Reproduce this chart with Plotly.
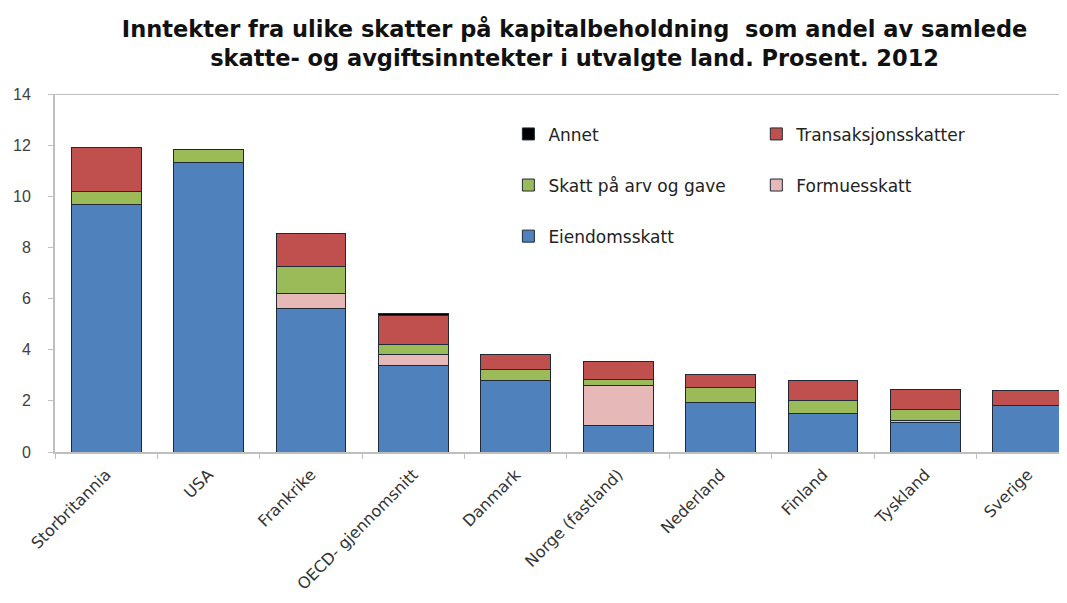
import plotly.graph_objects as go

categories = ["Storbritannia", "USA", "Frankrike", "OECD- gjennomsnitt", "Danmark",
              "Norge (fastland)", "Nederland", "Finland", "Tyskland", "Sverige"]
eiendomsskatt = [9.67, 11.34, 5.62, 3.37, 2.79, 1.02, 1.93, 1.51, 1.17, 1.83]
formuesskatt = [0.0, 0.0, 0.58, 0.45, 0.0, 1.60, 0.0, 0.0, 0.05, 0.0]
arv_og_gave = [0.53, 0.48, 1.05, 0.38, 0.44, 0.20, 0.60, 0.52, 0.44, 0.0]
transaksjon = [1.69, 0.0, 1.28, 1.15, 0.60, 0.73, 0.51, 0.76, 0.80, 0.56]
annet = [0.0, 0.0, 0.0, 0.07, 0.0, 0.0, 0.0, 0.0, 0.0, 0.0]
y_ticks = [0, 2, 4, 6, 8, 10, 12, 14]

title_text = ("Inntekter fra ulike skatter på kapitalbeholdning  som andel av samlede<br>"
              "skatte- og avgiftsinntekter i utvalgte land. Prosent. 2012")

# (name, values, colour, legend, rank within legend)
series = [
    ("Eiendomsskatt", eiendomsskatt, "#4F81BD", "legend", 3),
    ("Formuesskatt", formuesskatt, "#E6B9B8", "legend2", 2),
    ("Skatt på arv og gave", arv_og_gave, "#9BBB59", "legend", 2),
    ("Transaksjonsskatter", transaksjon, "#C0504D", "legend2", 1),
    ("Annet", annet, "#000000", "legend", 1),
]

fig = go.Figure()
for name, vals, color, leg, rank in series:
    fig.add_trace(go.Bar(
        x=categories, y=vals, name=name, legend=leg, legendgroup=name,
        legendrank=rank,
        marker=dict(color=color, line=dict(color="#1F2A36", width=1)),
    ))

legend_common = dict(
    bgcolor="rgba(0,0,0,0)", borderwidth=0,
    font=dict(family="DejaVu Sans, sans-serif", size=17, color="#222222"),
    traceorder="grouped", tracegroupgap=26, orientation="v",
    xanchor="left", yanchor="top", itemclick=False,
)

fig.update_layout(
    width=1067, height=603,
    margin=dict(l=47, r=8, t=86, b=159),
    paper_bgcolor="white", plot_bgcolor="white",
    barmode="stack", bargap=0.32,
    font=dict(family="DejaVu Sans, sans-serif", size=14, color="#404040"),
    title=dict(text=title_text, x=0.531, xanchor="center", y=0.952, yanchor="top",
               font=dict(family="DejaVu Sans, sans-serif", size=22.5,
                         color="#111111", weight="bold")),
    legend=dict(x=0.448, y=0.9375, **legend_common),
    legend2=dict(x=0.693, y=0.9375, **legend_common),
    showlegend=True,
    xaxis=dict(showline=True, linecolor="#BFBFBF", linewidth=2, automargin=False,
               range=[-0.5, 9.383],
               ticks="outside", tickson="boundaries", ticklen=5, tickcolor="#BFBFBF",
               tickangle=-45, ticklabelstandoff=5,
               tickfont=dict(family="DejaVu Sans, sans-serif", size=16, color="#333333"),
               showgrid=False),
    yaxis=dict(range=[0, 14], tickvals=y_ticks, showline=True, linecolor="#BFBFBF",
               linewidth=2, ticks="outside", ticklen=5, tickcolor="#BFBFBF",
               showgrid=False, zeroline=False, automargin=False, ticklabelstandoff=14,
               tickfont=dict(family="Liberation Sans, Arial, sans-serif", size=16, color="#404040")),
    shapes=[dict(type="line", xref="paper", yref="y", x0=0, x1=1, y0=14, y1=14,
                 line=dict(color="#BFBFBF", width=2))],
)

fig.write_html("out.html")
